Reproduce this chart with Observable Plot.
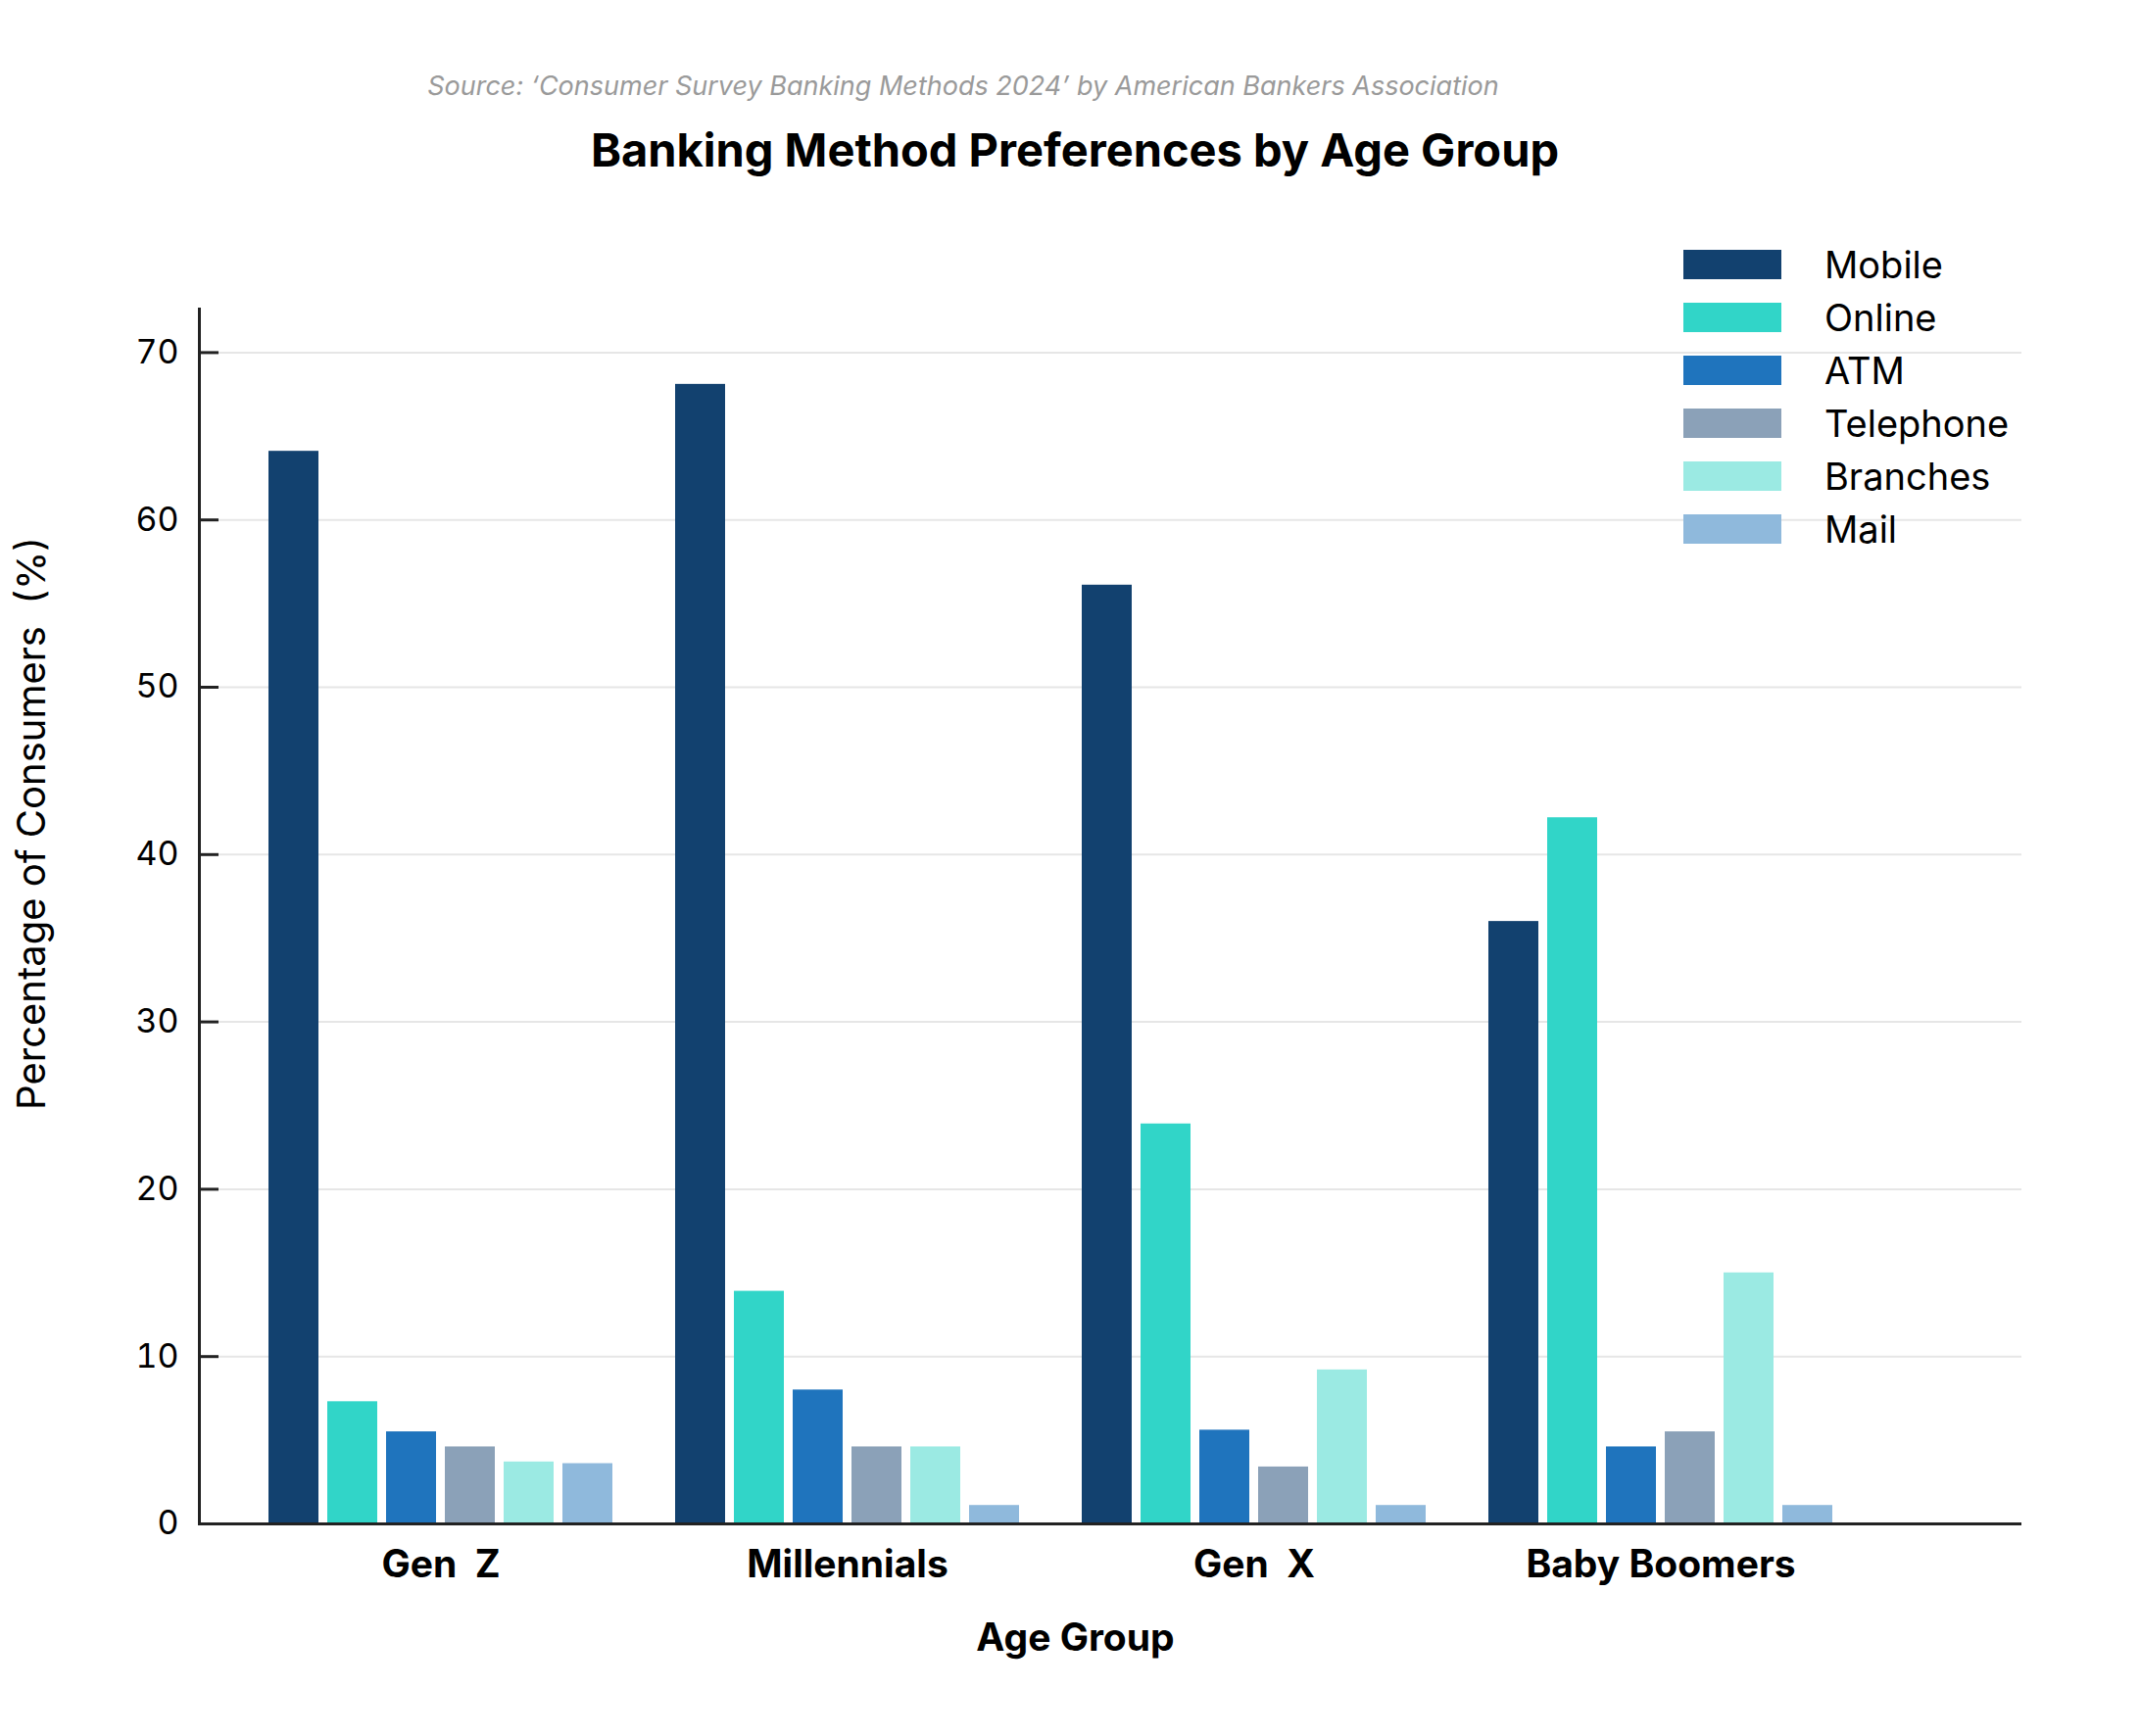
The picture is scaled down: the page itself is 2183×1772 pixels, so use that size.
<!DOCTYPE html>
<html>
<head>
<meta charset="utf-8">
<script src="https://cdn.jsdelivr.net/npm/d3@7"></script>
<script src="https://cdn.jsdelivr.net/npm/@observablehq/plot@0.6"></script>
<style>
html, body { margin: 0; padding: 0; background: #fff; }
#wrap { position: relative; width: 2183px; height: 1772px; font-family: Inter, "Noto Sans", sans-serif; background: #fff; }
#source { position: absolute; left: 0; width: 1966px; top: 72px; text-align: center; font-size: 27px; font-style: italic; color: #9a9a9a; line-height: 32px; }
#title { position: absolute; left: 0; width: 2194px; top: 125px; text-align: center; font-size: 47px; font-weight: 700; line-height: 56px; color: #000; }
#chart { position: absolute; left: 0; top: 200px; }
#legend { position: absolute; left: 1718px; top: 255px; }
#chart svg text { white-space: pre; }
.lg-swatches { margin: 0 !important; font-family: Inter, "Noto Sans", sans-serif !important; }
.lg-swatch { margin-bottom: 23px; }
.lg-swatch > svg { margin-right: 44px !important; }
.lg-swatch-label { font-size: 38px; line-height: 30px; color: #000; overflow: visible !important; }
</style>
</head>
<body>
<div id="wrap">
  <div id="source">Source: ‘Consumer Survey Banking Methods 2024’ by American Bankers Association</div>
  <div id="title">Banking Method Preferences by Age Group</div>
  <div id="chart"></div>
  <div id="legend"></div>
</div>
<script>
const groups = ["Gen Z", "Millennials", "Gen X", "Baby Boomers"];
const groupLabels = ["Gen  Z", "Millennials", "Gen  X", "Baby Boomers"];
const methods = ["Mobile", "Online", "ATM", "Telephone", "Branches", "Mail"];
const colors = ["#12416f", "#31d5c8", "#1f74bd", "#8ba1b8", "#9beae3", "#8fb9dc"];

const mobile    = [64.1, 68.1, 56.1, 36.0];
const online    = [7.3, 13.9, 23.9, 42.2];
const atm       = [5.5, 8.0, 5.6, 4.6];
const telephone = [4.6, 4.6, 3.4, 5.5];
const branches  = [3.7, 4.6, 9.2, 15.0];
const mail      = [3.6, 1.1, 1.1, 1.1];
const series = [mobile, online, atm, telephone, branches, mail];

const yTicks = [0, 10, 20, 30, 40, 50, 60, 70];
const yLabel = "Percentage of Consumers  (%)";
const xLabel = "Age Group";

const data = groups.flatMap((g, gi) => methods.map((m, mi) => ({group: g, method: m, value: series[mi][gi]})));

const W = 2183, mL = 203, mR = 120;

const plot = Plot.plot({
  width: W,
  height: 1572,
  marginLeft: mL,
  marginRight: mR,
  marginTop: 115,
  marginBottom: 217,
  style: {fontFamily: "Inter, 'Noto Sans', sans-serif", background: "#fff", color: "#000"},
  x: {type: "band", domain: groups, paddingInner: 0.154, paddingOuter: 0.077, insetLeft: 38, insetRight: 159},
  y: {domain: [0, 72.6]},
  color: {domain: methods, range: colors},
  marks: [
    Plot.ruleY(yTicks, {stroke: "#e6e6e6", strokeWidth: 2}),
    ...methods.map((m, i) => Plot.barY(data.filter(d => d.method === m), {
      x: "group", y: "value", fill: "method", insetLeft: i * 60, insetRight: 300 - i * 60
    })),
    Plot.ruleY(yTicks, {stroke: "#222", strokeWidth: 3, insetRight: W - mL - mR - 20}),
    Plot.axisY({ticks: yTicks, tickSize: 0, tickPadding: 21, fontSize: 34, label: null}),
    Plot.axisX({tickSize: 0, tickPadding: 27, fontSize: 39, fontWeight: 700, label: null,
      tickFormat: g => groupLabels[groups.indexOf(g)]}),
    Plot.ruleY([0], {stroke: "#222", strokeWidth: 3}),
    Plot.frame({anchor: "left", stroke: "#222", strokeWidth: 3}),
    Plot.text([yLabel], {frameAnchor: "left", textAnchor: "middle", rotate: -90, dx: -170, dy: -95, fontSize: 40, fill: "#000"}),
    Plot.text([xLabel], {frameAnchor: "bottom", dx: -36, dy: 129, fontSize: 39, fontWeight: 700, fill: "#000"})
  ]
});
document.getElementById("chart").appendChild(plot);

const legend = plot.legend("color", {legend: "swatches", columns: 1, swatchWidth: 100, swatchHeight: 30, className: "lg"});
document.getElementById("legend").appendChild(legend);
</script>
</body>
</html>
